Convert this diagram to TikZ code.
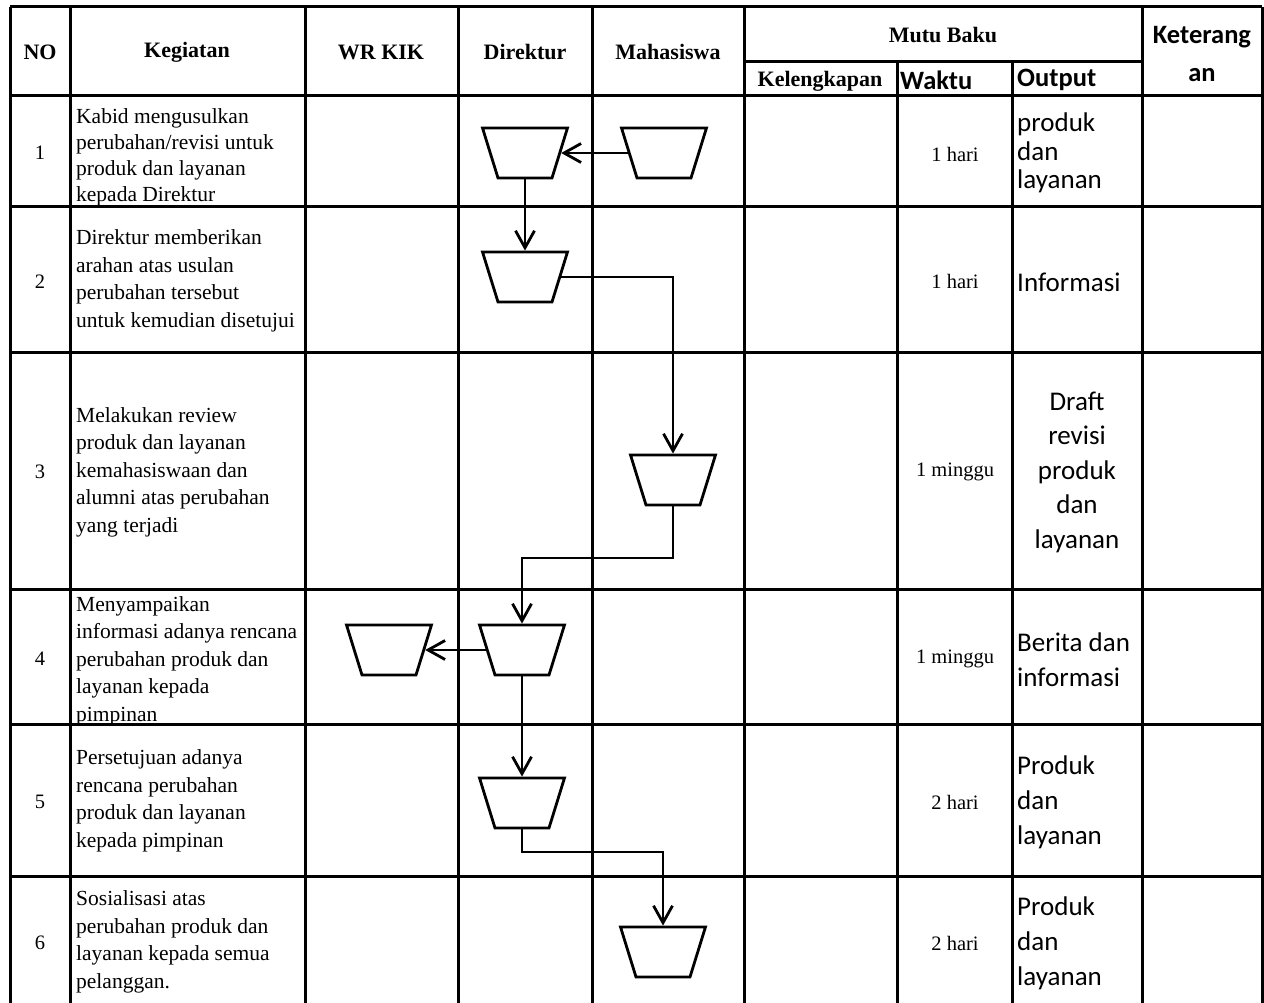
\documentclass[tikz,border=0pt]{standalone}
\usepackage{fontspec}
\setmainfont{Liberation Serif}
\newfontfamily\calibri{Carlito}
\usetikzlibrary{arrows.meta,shapes.geometric}

\begin{document}
\begin{tikzpicture}[x=1pt, y=-1pt, >={Straight Barb[length=17pt,width=19pt]},
	grid/.style={line width=3pt},
	flow/.style={->, line width=2.8pt},
	proc/.style={draw, line width=2.8pt, trapezium, trapezium angle=74, shape border rotate=180,
		trapezium stretches=true, minimum width=85pt, minimum height=50pt, inner sep=2pt},
	hd/.style={font=\fontsize{22}{26}\selectfont\bfseries, inner sep=0pt},
	hdsans/.style={font=\calibri\fontsize{26.5}{38}\selectfont\bfseries, inner sep=0pt, align=center},
	keg/.style={font=\fontsize{21.5}{27.5}\selectfont, align=left, anchor=west, inner sep=0pt},
	num/.style={font=\fontsize{20.5}{24}\selectfont, inner sep=0pt},
	outp/.style={font=\calibri\fontsize{27}{35}\selectfont, align=left, anchor=west, inner sep=0pt}]
	\useasboundingbox (0,0) rectangle (1264,1003);

	% header
	\node[hd] (hno) at (40,52) {NO};
	\node[hd] (hkeg) at (187,52) {Kegiatan};
	\node[hd] (hwr) at (381,52) {WR KIK};
	\node[hd] (hdir) at (525,52) {Direktur};
	\node[hd] (hmhs) at (668,52) {Mahasiswa};
	\node[hd] (hmutu) at (943,35) {Mutu Baku};
	\node[hd] (hkel) at (820,81) {Kelengkapan};
	\node[hdsans, anchor=west] (hwak) at (900,80) {Waktu};
	\node[hdsans, anchor=west] (hout) at (1017,80) {Output};
	\node[hdsans] (hket) at (1202,54) {Keterang\\an};

	% nomor
	\node[num] (n1) at (40,153) {1};
	\node[num] (n2) at (40,282) {2};
	\node[num] (n3) at (40,472) {3};
	\node[num] (n4) at (40,659) {4};
	\node[num] (n5) at (40,802) {5};
	\node[num] (n6) at (40,943) {6};

	% kegiatan
	\node[keg, font=\fontsize{21.5}{26}\selectfont] (k1) at (76,157) {Kabid mengusulkan\\perubahan/revisi untuk\\produk dan layanan\\kepada Direktur};
	\node[keg] (k2) at (76,281) {Direktur memberikan\\arahan atas usulan\\perubahan tersebut\\untuk kemudian disetujui};
	\node[keg] (k3) at (76,472) {Melakukan review\\produk dan layanan\\kemahasiswaan dan\\alumni atas perubahan\\yang terjadi};
	\begin{scope}
		\clip (70,589) rectangle (305,724);
		\node[keg] (k4) at (76,661) {Menyampaikan\\informasi adanya rencana\\perubahan produk dan\\layanan kepada\\pimpinan};
	\end{scope}
	\node[keg] (k5) at (76,801) {Persetujuan adanya\\rencana perubahan\\produk dan layanan\\kepada pimpinan};
	\node[keg] (k6) at (76,942) {Sosialisasi atas\\perubahan produk dan\\layanan kepada semua\\pelanggan.};

	% waktu
	\node[num] (t1) at (955,154) {1 hari};
	\node[num] (t2) at (955,281) {1 hari};
	\node[num] (t3) at (955,472) {1 minggu};
	\node[num] (t4) at (955,659) {1 minggu};
	\node[num] (t5) at (955,802) {2 hari};
	\node[num] (t6) at (955,943) {2 hari};

	% output
	\node[outp, font=\calibri\fontsize{27}{28.5}\selectfont] (o1) at (1017,153) {produk\\dan\\layanan};
	\node[outp] (o2) at (1017,282) {Informasi};
	\node[outp, anchor=center, align=center, font=\calibri\fontsize{27}{34.5}\selectfont] (o3) at (1077,472) {Draft\\revisi\\produk\\dan\\layanan};
	\node[outp] (o4) at (1017,660) {Berita dan\\informasi};
	\node[outp] (o5) at (1017,802) {Produk\\dan\\layanan};
	\node[outp] (o6) at (1017,943) {Produk\\dan\\layanan};

	% garis tabel
	\draw[grid] (10,7) -- (1262,7);
	\draw[grid] (744,62) -- (1142,62);
	\draw[grid] (10,96) -- (1262,96) (10,207) -- (1262,207) (10,352) -- (1262,352)
		(10,589) -- (1262,589) (10,724) -- (1262,724) (10,876) -- (1262,876);
	\draw[grid] (10,7) -- (10,1003) (70,7) -- (70,1003) (305,7) -- (305,1003)
		(458,7) -- (458,1003) (592,7) -- (592,1003) (744,7) -- (744,1003)
		(1142,7) -- (1142,1003) (1262,7) -- (1262,1003);
	\draw[grid] (897,62) -- (897,1003) (1012,62) -- (1012,1003);

	% alur
	\node[proc] (d1) at (525,153) {};
	\node[proc] (m1) at (664,153) {};
	\node[proc] (d2) at (525,277) {};
	\node[proc] (m3) at (673,480) {};
	\node[proc] (w4) at (389,650) {};
	\node[proc] (d4) at (522,650) {};
	\node[proc] (d5) at (522,803) {};
	\node[proc] (m6) at (663,952) {};
	\coordinate (j3) at (522,558);
	\coordinate (j5) at (663,852);

	\draw[flow] (m1) -- (d1);
	\draw[flow] (d1) -- (d2);
	\draw[flow] (d2) -| (m3);
	\draw[flow] (m3) |- (j3) -- (d4);
	\draw[flow] (d4) -- (w4);
	\draw[flow] (d4) -- (d5);
	\draw[flow] (d5) |- (j5) -- (m6);
\end{tikzpicture}
\end{document}
